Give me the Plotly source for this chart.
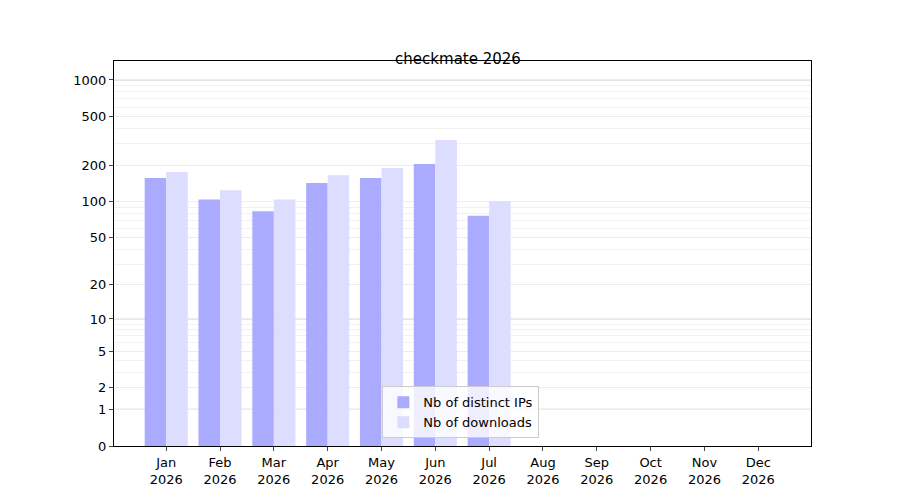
import numpy as np
import plotly.graph_objects as go

months = ["Jan", "Feb", "Mar", "Apr", "May", "Jun", "Jul", "Aug", "Sep", "Oct", "Nov", "Dec"]
year = "2026"
distinct_ips = [156, 104, 83, 142, 156, 204, 76, 0, 0, 0, 0, 0]
downloads = [175, 124, 104, 165, 189, 321, 101, 0, 0, 0, 0, 0]
major_ticks = [0, 1, 2, 5, 10, 20, 50, 100, 200, 500, 1000]
decade_lines = [1, 10, 100, 1000]
minor_ticks = [3, 4, 6, 7, 8, 9, 30, 40, 60, 70, 80, 90, 300, 400, 600, 700, 800, 900]


def tr(v):
    # symlog-ish scale: log10(1 + v)
    return np.log10(1 + np.asarray(v, dtype=float))


labels = [m + "<br>" + year for m in months]
x = list(range(len(months)))

fig = go.Figure()
fig.add_trace(go.Bar(name="Nb of distinct IPs", x=x, y=tr(distinct_ips),
                     marker_color="#aaaaff", marker_line_width=0))
fig.add_trace(go.Bar(name="Nb of downloads", x=x, y=tr(downloads),
                     marker_color="#ddddff", marker_line_width=0))

# darker grid lines at the decades
for d in tr(decade_lines):
    fig.add_hline(y=float(d), line_color="#c8c8c8", line_width=1, layer="below")

fig.update_layout(
    width=900, height=500,
    paper_bgcolor="white", plot_bgcolor="white",
    font=dict(family="DejaVu Sans", size=13, color="black"),
    title=dict(text="checkmate 2026", x=0.5, xanchor="center", y=0.91, font=dict(size=15)),
    margin=dict(l=106, r=97, t=53, b=62),
    barmode="group", bargap=0.2, bargroupgap=0,
    showlegend=True,
    legend=dict(x=0.385, y=0.02, xanchor="left", yanchor="bottom",
                bordercolor="#cccccc", borderwidth=1, bgcolor="rgba(255,255,255,0.8)",
                font=dict(size=13)),
)
fig.update_xaxes(range=[-0.97, 11.98], tickvals=x, ticktext=labels, ticks="outside",
                 ticklen=4, showgrid=False, showline=True, linecolor="black", mirror=True,
                 zeroline=False)
fig.update_yaxes(range=[0, 3.156], tickvals=tr(major_ticks).tolist(),
                 ticktext=[str(t) for t in major_ticks], ticks="outside", ticklen=4,
                 showgrid=True, gridcolor="#ececec", gridwidth=1,
                 showline=True, linecolor="black", mirror=True, zeroline=False,
                 minor=dict(tickvals=tr(minor_ticks).tolist(), showgrid=True,
                            gridcolor="#f2f2f2", ticks=""))

fig.write_html("out.html")
